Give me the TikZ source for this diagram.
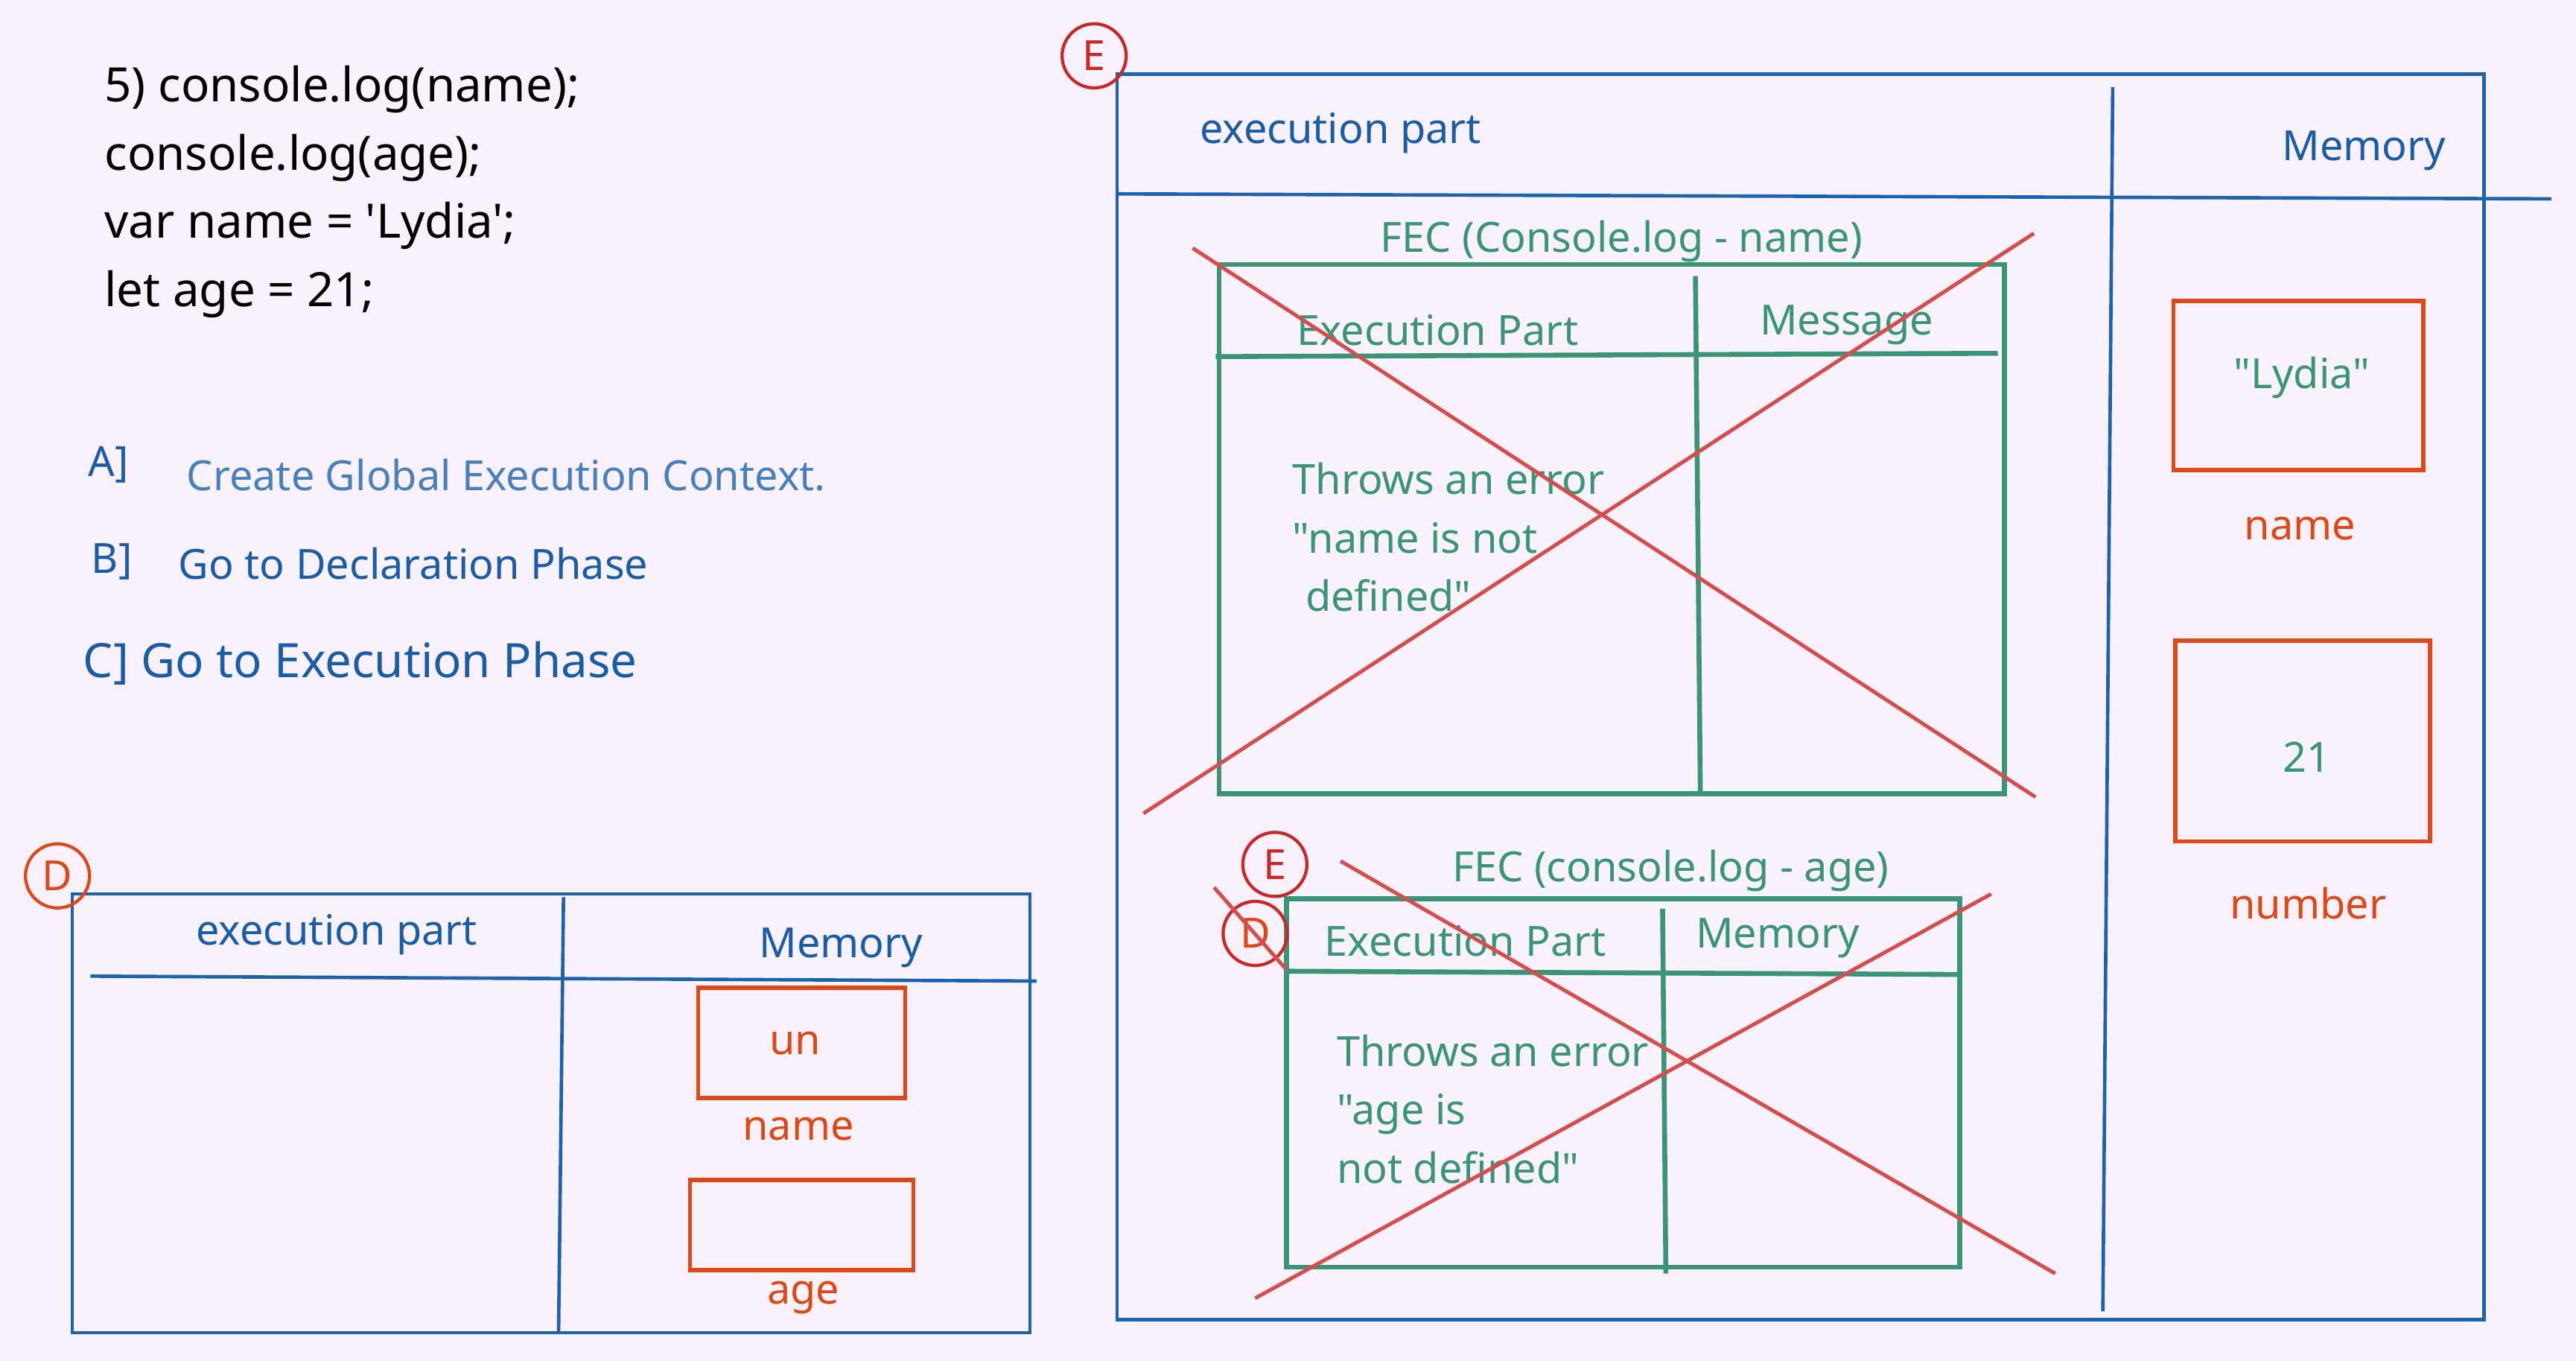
\documentclass[tikz,border=0pt]{standalone}
\usepackage{fontspec}
\setmainfont{Noto Sans}[Ligatures=TeXOff]
\usetikzlibrary{positioning}
\definecolor{bgLav}{RGB}{249,242,252}
\definecolor{boxBlue}{RGB}{28,98,172}
\definecolor{txtBlue}{RGB}{25,92,168}
\definecolor{lightBlue}{RGB}{72,128,190}
\definecolor{fecGreen}{RGB}{58,148,118}
\definecolor{memOrange}{RGB}{222,72,22}
\definecolor{crossRed}{RGB}{212,78,78}
\definecolor{ringRed}{RGB}{200,40,40}

\tikzset{
  codeline/.style={anchor=west,inner sep=0pt,yshift=-0.25mm,font=\fontsize{8.2}{10}\selectfont},
  lbl/.style={inner sep=0pt,yshift=-0.28mm,font=\fontsize{7.2}{9}\selectfont},
  phase/.style={inner sep=0pt,anchor=west,font=\fontsize{7.2}{9}\selectfont},
  msg/.style={inner sep=0pt,anchor=west,align=left,text=fecGreen,font=\fontsize{7.2}{10.1}\selectfont},
  bluebox/.style={draw=boxBlue,line width=0.6pt},
  greenbox/.style={draw=fecGreen,line width=0.85pt},
  membox/.style={draw=memOrange,line width=0.75pt},
  crossline/.style={draw=crossRed,line width=0.65pt},
  tagring/.style={circle,draw=ringRed,line width=0.55pt,inner sep=0pt,minimum size=3.9mm,font=\fontsize{7.2}{9}\selectfont}
}

\begin{document}
\begin{tikzpicture}[x=0.1mm,y=-0.1mm]
  \fill[bgLav] (0,0) rectangle (1568,828);
  \useasboundingbox (0,0) rectangle (1568,828);
  % code
  \foreach \ln [count=\i] in {{5) console.log(name);},{console.log(age);},{var name = 'Lydia';},{let age = 21;}}
    \node[codeline] (code\i) at (63,{10.5+41.5*\i}) {\ln};
  % phases
  \node[phase,text=txtBlue] (phaseA) at (53,283) {A]};
  \node[phase,text=lightBlue] (phaseAtxt) at (113,289) {Create Global Execution Context.};
  \node[phase,text=txtBlue] (phaseB) at (55,342) {B]};
  \node[phase,text=txtBlue] (phaseBtxt) at (108,343) {Go to Declaration Phase};
  \node[codeline,text=txtBlue] (phaseC) at (50,401) {C] Go to Execution Phase};

  % D: declaration phase
  \draw[bluebox] (44,544) rectangle (627,811);
  \draw[bluebox] (55,594) -- (631,597);
  \draw[bluebox] (343,546) -- (340,811);
  \node[tagring,draw=memOrange,text=memOrange] (tagD) at (35,533) {D};
  \node[lbl,text=txtBlue] (execD) at (205,566) {execution part};
  \node[lbl,text=txtBlue] (memD) at (512,574) {Memory};
  \draw[membox] (425,601) rectangle (551,668);
  \node[lbl,text=memOrange] (valName) at (484,632) {un};
  \node[lbl,text=memOrange] (keyName) at (486,684) {name};
  \draw[membox] (420,718) rectangle (556,773);
  \node[lbl,text=memOrange] (keyAge) at (489,787) {age};

  % E: execution phase
  \draw[bluebox] (680,45) rectangle (1512,803);
  \draw[bluebox] (680,118) -- (1553,121);
  \draw[bluebox] (1286,53) -- (1280,798);
  \node[tagring,text=ringRed] (tagE) at (666,34) {E};
  \node[lbl,text=txtBlue] (execE) at (816,78) {execution part};
  \node[lbl,text=txtBlue] (memE) at (1439,89) {Memory};
  \draw[membox] (1323,183) rectangle (1475,286);
  \node[lbl,text=fecGreen] (valLydia) at (1401,227) {"Lydia"};
  \node[lbl,text=memOrange] (keyNameE) at (1400,319) {name};
  \draw[membox] (1324,390) rectangle (1479,512);
  \node[lbl,text=fecGreen] (valAge) at (1404,458) {21};
  \node[lbl,text=memOrange] (keyNumber) at (1405,547) {number};

  % FEC for console.log(name)
  \node[lbl,text=fecGreen] (fecName) at (987,144) {FEC (Console.log - name)};
  \draw[greenbox] (742,161) rectangle (1220,483);
  \draw[greenbox] (740,217) -- (1216,215);
  \draw[greenbox] (1032,168) -- (1035,483);
  \node[lbl,text=fecGreen] (fecNameExec) at (875,198) {Execution Part};
  \node[lbl,text=fecGreen] (fecNameMsg) at (1124,195) {Message};
  \node[msg] (errName) at (786,327) {Throws an error\\"name is not\\\hspace*{0.8mm}defined"};
  \draw[crossline] (726,151) -- (1239,485);
  \draw[crossline] (696,495) -- (1238,142);

  % FEC for console.log(age)
  \node[lbl,text=fecGreen] (fecAge) at (1017,527) {FEC (console.log - age)};
  \draw[greenbox] (783,547) rectangle (1193,771);
  \draw[greenbox] (783,591) -- (1193,593);
  \draw[greenbox] (1012,553) -- (1014,775);
  \node[lbl,text=fecGreen] (fecAgeExec) at (892,570) {Execution Part};
  \node[lbl,text=fecGreen] (fecAgeMem) at (1082,568) {Memory};
  \node[msg] (errAge) at (813,675) {Throws an error\\"age is\\not defined"};
  \node[tagring,text=ringRed] (tagE2) at (776,526) {E};
  \node[tagring,text=memOrange] (tagD2) at (764,568) {D};
  \draw[crossline] (816,524) -- (1251,775);
  \draw[crossline] (764,790) -- (1212,544);
  \draw[crossline] (739,540) -- (783,590);
\end{tikzpicture}
\end{document}
